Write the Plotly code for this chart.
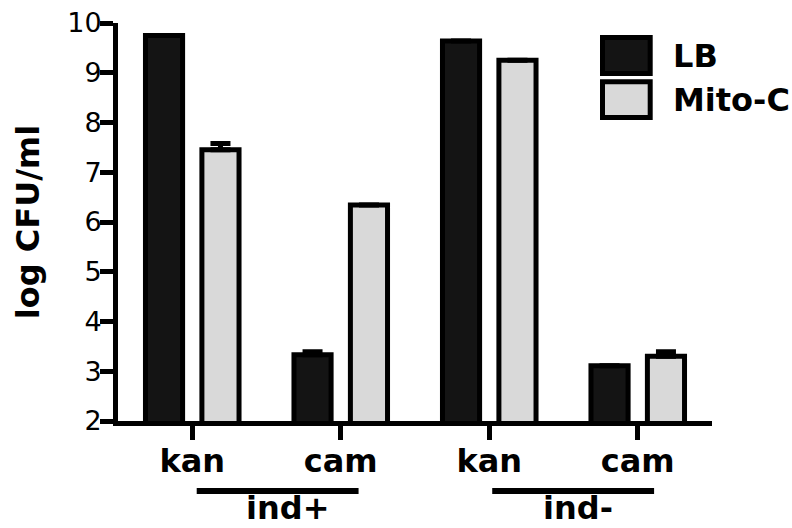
import plotly.graph_objects as go

# Data: log CFU/ml per selection, grouped by induction status
categories = ["kan", "cam", "kan", "cam"]
groups = ["ind+", "ind-"]
series_names = ["LB", "Mito-C"]
lb_values = [9.75, 3.33, 9.64, 3.11]
lb_errors = [0.0, 0.06, 0.0, 0.0]
mito_values = [7.45, 6.34, 9.25, 3.30]
mito_errors = [0.13, 0.0, 0.0, 0.09]
y_ticks = [2, 3, 4, 5, 6, 7, 8, 9, 10]

DARK = "#141414"
LIGHT = "#d9d9d9"
FONT = "DejaVu Sans, Arial, sans-serif"

W, H = 792, 528
ML, MR, MT, MB = 118, 80, 23, 107
PW, PH = W - ML - MR, H - MT - MB

def px_x(p):
    return (p - ML) / PW

def px_y(p):
    return (H - MB - p) / PH

x = list(range(len(categories)))
bar_w = 0.25
half_gap = 0.19

fig = go.Figure()
fig.add_trace(go.Bar(
    x=x, y=lb_values, name=series_names[0],
    width=bar_w, offset=-half_gap - bar_w / 2,
    marker=dict(color=DARK, line=dict(color="black", width=5)),
    error_y=dict(type="data", array=lb_errors, arrayminus=[0] * 4,
                 symmetric=False, color="black", thickness=5, width=10),
))
fig.add_trace(go.Bar(
    x=x, y=mito_values, name=series_names[1],
    width=bar_w, offset=half_gap - bar_w / 2,
    marker=dict(color=LIGHT, line=dict(color="black", width=5)),
    error_y=dict(type="data", array=mito_errors, arrayminus=[0] * 4,
                 symmetric=False, color="black", thickness=5, width=10),
))

# group underlines and labels
group_spans = [(0.03, 1.12), (2.02, 3.11)]
group_label_x = [0.64, 2.60]
shapes = []
annotations = []
for (x0, x1), gx, g in zip(group_spans, group_label_x, groups):
    shapes.append(dict(type="line", xref="x", yref="paper", x0=x0, x1=x1,
                       y0=px_y(491), y1=px_y(491),
                       line=dict(color="black", width=6)))
    annotations.append(dict(text=f"<b>{g}</b>", xref="x", yref="paper",
                            x=gx, y=px_y(529), showarrow=False,
                            xanchor="center", yanchor="bottom",
                            font=dict(family=FONT, size=32, color="black")))

# legend boxes drawn as shapes
legend_rows = [(37.5, 73.5, DARK), (81.8, 117.5, LIGHT)]
for (t, b, c), name in zip(legend_rows, series_names):
    shapes.append(dict(type="rect", xref="paper", yref="paper",
                       x0=px_x(602.5), x1=px_x(650.2), y0=px_y(b), y1=px_y(t),
                       fillcolor=c, line=dict(color="black", width=5)))
    annotations.append(dict(text=f"<b>{name}</b>", xref="paper", yref="paper",
                            x=px_x(671), y=px_y((t + b) / 2), showarrow=False,
                            xanchor="left", yanchor="middle",
                            font=dict(family=FONT, size=32, color="black")))

fig.update_layout(
    width=W, height=H,
    margin=dict(l=ML, r=MR, t=MT, b=MB),
    paper_bgcolor="white", plot_bgcolor="white",
    barmode="overlay", showlegend=False,
    shapes=shapes, annotations=annotations,
    font=dict(family=FONT, color="black"),
)
fig.update_xaxes(
    range=[-0.5, 3.5], tickmode="array", tickvals=x,
    ticktext=[f"<b>{c}</b>" for c in categories],
    tickfont=dict(family=FONT, size=32, color="black"),
    showline=True, linecolor="black", linewidth=5,
    ticks="outside", ticklen=14, tickwidth=5, tickcolor="black",
    ticklabelstandoff=-6,
    showgrid=False, zeroline=False, automargin=False,
)
fig.update_yaxes(
    range=[2, 10], tickmode="array", tickvals=y_ticks,
    tickfont=dict(family=FONT, size=27, color="black"),
    showline=True, linecolor="black", linewidth=5,
    ticks="outside", ticklen=13, tickwidth=5, tickcolor="black",
    ticklabelstandoff=-7,
    showgrid=False, zeroline=False, automargin=False,
    title=dict(text="<b>log CFU/ml</b>", font=dict(family=FONT, size=32, color="black"),
               standoff=20),
)

fig.write_html("out.html")
